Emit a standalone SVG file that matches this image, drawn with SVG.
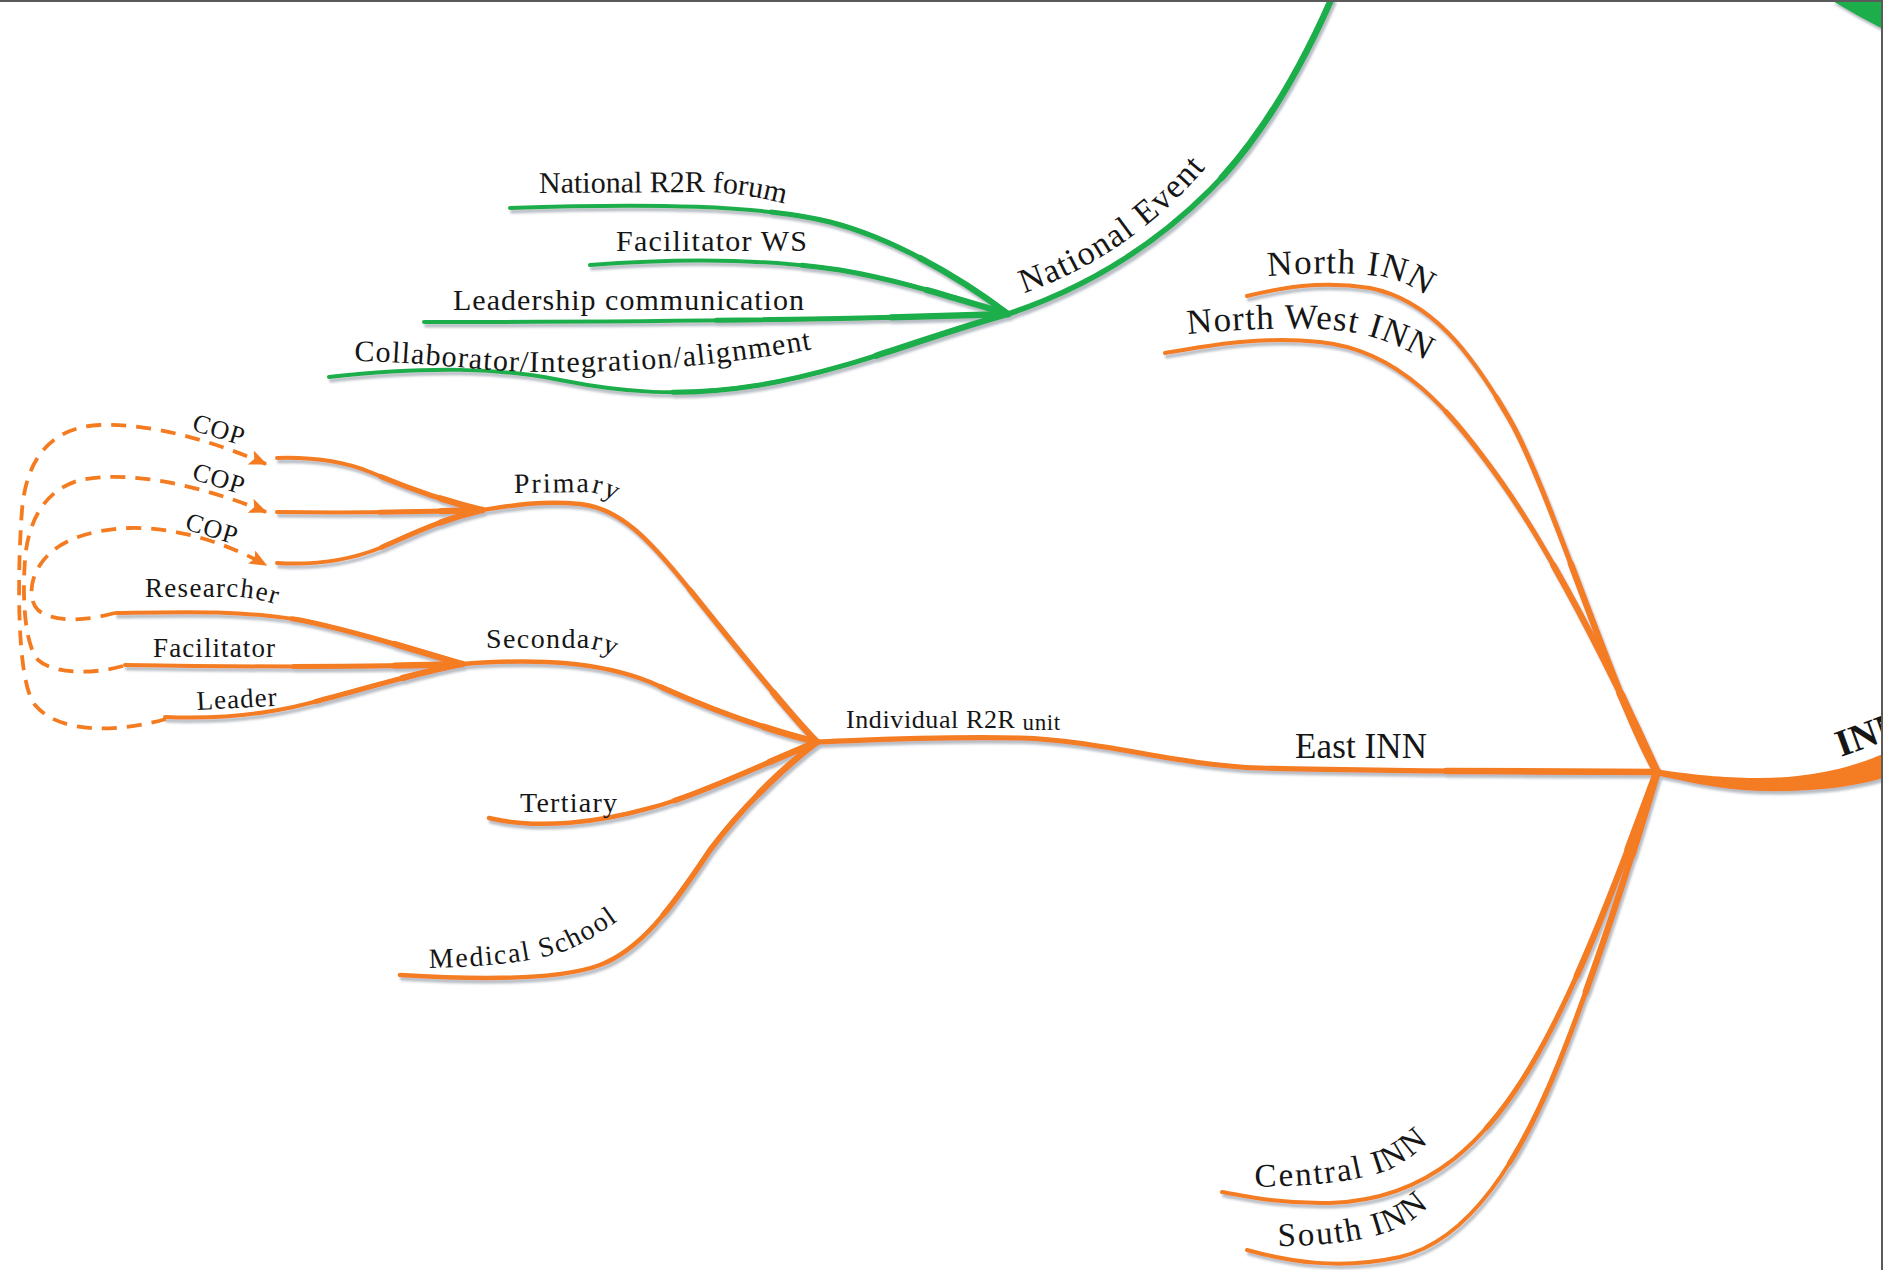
<svg xmlns="http://www.w3.org/2000/svg" xmlns:xlink="http://www.w3.org/1999/xlink" width="1883" height="1270" viewBox="0 0 1883 1270">
<defs>
<style>
.t{font-family:"Liberation Serif","Times New Roman",serif;fill:#161616}
.br{fill:none;stroke-linecap:round;stroke-linejoin:round}
.or{stroke:#F47B20}
.gr{stroke:#1FAE4B}
.L1{stroke-width:4}
.L2{stroke-width:5;stroke-dasharray:50 200}
.L3{stroke-width:6.3;stroke-dasharray:20 200}
.M1{stroke-width:4.5}
.M2{stroke-width:5.5;stroke-dasharray:45 200}
.M3{stroke-width:6.5;stroke-dasharray:15 200}
.N2{stroke-width:5;stroke-dasharray:58 200}
.N3{stroke-width:6.3;stroke-dasharray:32 200}
.N4{stroke-width:7.8;stroke-dasharray:12 200}
.E1{stroke-width:5.2}
.E2{stroke-width:6.5;stroke-dasharray:25 200}
.G1{stroke-width:5.5}
.G2{stroke-width:6.5;stroke-dasharray:45 200}
.dash{fill:none;stroke:#F47B20;stroke-width:3.8;stroke-dasharray:15 10;marker-end:url(#ah)}
</style>
<filter id="sh">
<feDropShadow dx="2" dy="3.5" stdDeviation="1.3" flood-color="#7d8794" flood-opacity="0.55"/>
</filter>
<marker id="ah" viewBox="0 0 12 10" refX="11" refY="5" markerWidth="18" markerHeight="15" markerUnits="userSpaceOnUse" orient="auto">
<path d="M0,0 L12,5 L0,10 L2.5,5 Z" fill="#F47B20"/>
</marker>
<path id="g-main" pathLength="100" d="M1331,0 C1300,70 1260,140 1210,190 C1150,250 1080,290 1008,314"/>
<path id="g1" pathLength="100" d="M1008,314 C970,285 900,240 830,222 C760,205 650,203 510,208"/>
<path id="g2" pathLength="100" d="M1008,314 C960,300 900,280 840,270 C760,258 680,258 590,265"/>
<path id="g3" pathLength="100" d="M1008,314 C900,318 700,322 424,322"/>
<path id="g4" pathLength="100" d="M1008,314 C930,335 850,370 760,385 C680,398 620,392 560,380 C500,368 430,366 329,377"/>
<path id="e-east" pathLength="100" d="M1657,772 C1500,772 1350,770 1260,768 C1180,766 1100,740 1020,738 C940,736 870,740 817,742"/>
<path id="e-north" pathLength="100" d="M1657,772 C1615,700 1550,490 1510,420 C1470,350 1430,300 1370,288 C1320,280 1280,288 1247,296"/>
<path id="e-nw" pathLength="100" d="M1657,772 C1620,690 1557,560 1500,480 C1450,410 1400,350 1320,342 C1260,336 1210,345 1165,353"/>
<path id="e-central" pathLength="100" d="M1657,772 C1635,830 1590,960 1540,1050 C1490,1140 1430,1200 1330,1203 C1280,1204 1245,1196 1222,1192"/>
<path id="e-south" pathLength="100" d="M1657,772 C1640,830 1600,960 1560,1060 C1520,1160 1470,1240 1400,1257 C1340,1270 1290,1262 1247,1250"/>
<path id="e-primary" pathLength="100" d="M817,742 C790,715 730,640 690,590 C650,540 620,508 580,504 C540,500 510,506 482,510"/>
<path id="e-secondary" pathLength="100" d="M817,742 C760,728 700,705 650,682 C600,662 540,658 462,664"/>
<path id="e-tertiary" pathLength="100" d="M817,742 C760,765 700,795 650,808 C600,822 540,830 489,818"/>
<path id="e-medical" pathLength="100" d="M817,742 C780,770 740,810 710,850 C670,910 640,950 600,965 C560,980 480,980 400,975"/>
<path id="e-p1" pathLength="100" d="M482,510 C440,500 400,485 370,472 C340,460 310,457 277,458"/>
<path id="e-p2" pathLength="100" d="M482,510 C420,512 340,513 277,512"/>
<path id="e-p3" pathLength="100" d="M482,510 C440,520 410,535 380,548 C345,562 310,565 277,563"/>
<path id="e-s1" pathLength="100" d="M462,664 C420,652 360,632 300,620 C240,610 180,612 116,613"/>
<path id="e-s2" pathLength="100" d="M462,664 C380,667 250,667 125,665"/>
<path id="e-s3" pathLength="100" d="M462,664 C420,672 360,690 310,703 C260,716 210,719 165,717"/>
<path id="tp-ne" d="M1024,293 C1075,276 1140,240 1195,180 C1210,163 1222,148 1240,122"/>
<path id="tp-nr2r" d="M539,193 L705,192 C740,193 778,199 822,216"/>
<path id="tp-collab" d="M354,361 C430,362 480,372 550,372 C640,372 720,366 830,346"/>
<path id="tp-north" d="M1268,276 C1310,273 1360,271 1392,279 C1412,285 1432,298 1455,318"/>
<path id="tp-nw" d="M1188,334 C1240,329 1300,326 1345,331 C1385,337 1425,356 1460,384"/>
<path id="tp-central" d="M1255,1187 C1300,1186 1350,1184 1388,1170 C1408,1161 1430,1143 1452,1118"/>
<path id="tp-south" d="M1278,1246 C1320,1246 1368,1242 1400,1227 C1418,1218 1436,1201 1452,1181"/>
<path id="tp-primary" d="M514,493 L588,492 C600,493 614,499 630,510"/>
<path id="tp-secondary" d="M486,648 L585,648 C597,649 612,654 628,663"/>
<path id="tp-medical" d="M429,968 C480,967 530,963 565,951 C585,943 605,931 635,908"/>
<path id="tp-researcher" d="M145,597 L240,597 C255,598 270,602 290,609"/>
</defs>

<rect x="0" y="0" width="1883" height="1270" fill="#ffffff"/>

<g id="connectors">
 <g id="branches" filter="url(#sh)">
  <path d="M1831,0 L1883,0 L1883,29 C1865,20 1848,10 1831,0 Z" fill="#1FAE4B"/>
  <use xlink:href="#g-main" class="br gr G1"/>
  <use xlink:href="#g-main" class="br gr G2"/>
  <use xlink:href="#g1" class="br gr L1"/><use xlink:href="#g1" class="br gr L2"/><use xlink:href="#g1" class="br gr L3"/>
  <use xlink:href="#g2" class="br gr L1"/><use xlink:href="#g2" class="br gr L2"/><use xlink:href="#g2" class="br gr L3"/>
  <use xlink:href="#g3" class="br gr L1"/><use xlink:href="#g3" class="br gr L2"/><use xlink:href="#g3" class="br gr L3"/>
  <use xlink:href="#g4" class="br gr L1"/><use xlink:href="#g4" class="br gr L2"/><use xlink:href="#g4" class="br gr L3"/>
  <path d="M1655,769 C1700,776 1730,778 1760,778 C1810,778 1850,768 1883,754 L1883,778 C1850,788 1810,792 1760,791 C1720,790 1690,782 1655,775 Z" fill="#F47B20"/>
  <use xlink:href="#e-east" class="br or E1"/><use xlink:href="#e-east" class="br or E2"/>
  <use xlink:href="#e-north" class="br or L1"/><use xlink:href="#e-north" class="br or N2"/><use xlink:href="#e-north" class="br or N3"/><use xlink:href="#e-north" class="br or N4"/>
  <use xlink:href="#e-nw" class="br or L1"/><use xlink:href="#e-nw" class="br or N2"/><use xlink:href="#e-nw" class="br or N3"/><use xlink:href="#e-nw" class="br or N4"/>
  <use xlink:href="#e-central" class="br or L1"/><use xlink:href="#e-central" class="br or N2"/><use xlink:href="#e-central" class="br or N3"/><use xlink:href="#e-central" class="br or N4"/>
  <use xlink:href="#e-south" class="br or L1"/><use xlink:href="#e-south" class="br or N2"/><use xlink:href="#e-south" class="br or N3"/><use xlink:href="#e-south" class="br or N4"/>
  <use xlink:href="#e-primary" class="br or M1"/><use xlink:href="#e-primary" class="br or M2"/><use xlink:href="#e-primary" class="br or M3"/>
  <use xlink:href="#e-secondary" class="br or M1"/><use xlink:href="#e-secondary" class="br or M2"/><use xlink:href="#e-secondary" class="br or M3"/>
  <use xlink:href="#e-tertiary" class="br or M1"/><use xlink:href="#e-tertiary" class="br or M2"/><use xlink:href="#e-tertiary" class="br or M3"/>
  <use xlink:href="#e-medical" class="br or M1"/><use xlink:href="#e-medical" class="br or M2"/><use xlink:href="#e-medical" class="br or M3"/>
  <use xlink:href="#e-p1" class="br or L1"/><use xlink:href="#e-p1" class="br or L2"/><use xlink:href="#e-p1" class="br or L3"/>
  <use xlink:href="#e-p2" class="br or L1"/><use xlink:href="#e-p2" class="br or L2"/><use xlink:href="#e-p2" class="br or L3"/>
  <use xlink:href="#e-p3" class="br or L1"/><use xlink:href="#e-p3" class="br or L2"/><use xlink:href="#e-p3" class="br or L3"/>
  <use xlink:href="#e-s1" class="br or L1"/><use xlink:href="#e-s1" class="br or L2"/><use xlink:href="#e-s1" class="br or L3"/>
  <use xlink:href="#e-s2" class="br or L1"/><use xlink:href="#e-s2" class="br or L2"/><use xlink:href="#e-s2" class="br or L3"/>
  <use xlink:href="#e-s3" class="br or L1"/><use xlink:href="#e-s3" class="br or L2"/><use xlink:href="#e-s3" class="br or L3"/>
 </g>
 <g id="relations">
  <path class="dash" d="M166,719 C120,732 60,735 35,705 C15,680 18,560 22,510 C26,460 50,427 100,425 C150,423 210,440 266,464"/>
  <path class="dash" d="M123,666 C95,674 55,675 38,660 C25,645 22,600 25,560 C28,520 45,490 80,480 C130,470 200,485 266,512"/>
  <path class="dash" d="M115,613 C90,620 55,624 38,610 C28,600 30,580 40,565 C55,542 85,530 130,528 C180,527 230,545 266,565"/>
  <text class="t" x="191" y="430" font-size="26" letter-spacing="1" transform="rotate(17 191 430)">COP</text>
  <text class="t" x="191" y="479" font-size="26" letter-spacing="1" transform="rotate(17 191 479)">COP</text>
  <text class="t" x="184" y="529" font-size="26" letter-spacing="1" transform="rotate(17 184 529)">COP</text>
 </g>
</g>

<g id="n-national-event"><text class="t" font-size="34" letter-spacing="1.4"><textPath xlink:href="#tp-ne">National Event</textPath></text></g>
<g id="n-national-r2r-forum"><text class="t" font-size="30"><textPath xlink:href="#tp-nr2r">National R2R forum</textPath></text></g>
<g id="n-facilitator-ws"><text class="t" x="616" y="251" font-size="30" textLength="191" lengthAdjust="spacing">Facilitator WS</text></g>
<g id="n-leadership-communication"><text class="t" x="453" y="310" font-size="30" textLength="351" lengthAdjust="spacing">Leadership communication</text></g>
<g id="n-collaborator"><text class="t" font-size="30" letter-spacing="1.2"><textPath xlink:href="#tp-collab">Collaborator/Integration/alignment</textPath></text></g>

<g id="n-inn"><text class="t" x="1841" y="757" font-size="38" font-weight="bold" transform="rotate(-20 1841 757)">INN</text></g>
<g id="n-east-inn"><text class="t" x="1295" y="758" font-size="35" textLength="132" lengthAdjust="spacing">East INN</text></g>
<g id="n-north-inn"><text class="t" font-size="35" letter-spacing="1.3"><textPath xlink:href="#tp-north">North INN</textPath></text></g>
<g id="n-north-west-inn"><text class="t" font-size="35" letter-spacing="1.1"><textPath xlink:href="#tp-nw">North West INN</textPath></text></g>
<g id="n-central-inn"><text class="t" font-size="33" letter-spacing="2"><textPath xlink:href="#tp-central">Central INN</textPath></text></g>
<g id="n-south-inn"><text class="t" font-size="33" letter-spacing="2"><textPath xlink:href="#tp-south">South INN</textPath></text></g>

<g id="n-individual-r2r-unit"><text class="t" x="846" y="728" font-size="26" letter-spacing="0.6">Individual R2R <tspan font-size="23" dy="2">unit</tspan></text></g>
<g id="n-primary"><text class="t" font-size="28" letter-spacing="2"><textPath xlink:href="#tp-primary">Primary</textPath></text></g>
<g id="n-secondary"><text class="t" font-size="28" letter-spacing="1.4"><textPath xlink:href="#tp-secondary">Secondary</textPath></text></g>
<g id="n-tertiary"><text class="t" x="520" y="812" font-size="28" textLength="97" lengthAdjust="spacing">Tertiary</text></g>
<g id="n-medical-school"><text class="t" font-size="28" letter-spacing="1.7"><textPath xlink:href="#tp-medical">Medical School</textPath></text></g>
<g id="n-researcher"><text class="t" font-size="27" letter-spacing="1.3"><textPath xlink:href="#tp-researcher">Researcher</textPath></text></g>
<g id="n-facilitator"><text class="t" x="153" y="657" font-size="27" textLength="122" lengthAdjust="spacing">Facilitator</text></g>
<g id="n-leader"><text class="t" x="197" y="710" font-size="27" textLength="80" lengthAdjust="spacing" transform="rotate(-3 197 710)">Leader</text></g>

<g id="frame">
 <rect x="0" y="0" width="1883" height="2" fill="#5a5a5a"/>
 <rect x="1881" y="0" width="2" height="1270" fill="#5a5a5a"/>
</g>
</svg>
